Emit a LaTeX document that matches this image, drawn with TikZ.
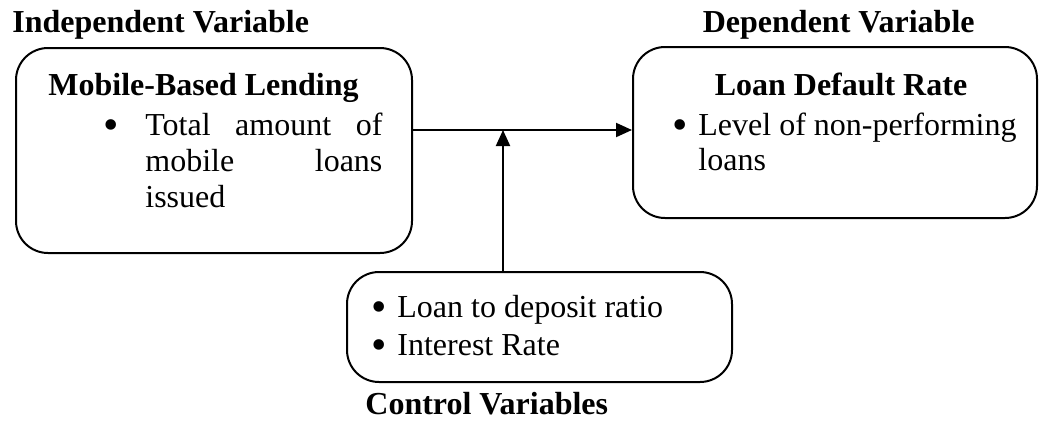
\documentclass[tikz,border=0pt]{standalone}
\usepackage{fontspec}
\setmainfont{Liberation Serif}
\usepackage{tikz}
\usetikzlibrary{arrows.meta,positioning}

\begin{document}
\begin{tikzpicture}[x=0.5pt,y=0.5pt,
  box/.style={draw,line width=1pt,rounded corners=16pt,inner sep=0pt},
  hdr/.style={font=\fontsize{16}{18}\selectfont\bfseries,inner sep=0pt},
  txt/.style={font=\fontsize{16}{18}\selectfont,inner sep=0pt,align=left},
  dot/.style={font=\fontsize{22}{22}\selectfont,inner sep=0pt,text height=10pt,text depth=0pt},
  arr/.style={line width=1pt,-{Triangle[length=8pt,width=7pt]}}]
\useasboundingbox (0,0) rectangle (1039,420);
% boxes
\node[box,minimum width=198pt,minimum height=102.5pt] (mbl) at (214,269.5) {};
\node[box,minimum width=202pt,minimum height=85.5pt] (ldr) at (835,287.5) {};
\node[box,minimum width=192.5pt,minimum height=55pt] (ctl) at (539.5,93) {};
% headings
\node[hdr,anchor=base west] (iv) at (12,388) {Independent Variable};
\node[hdr,anchor=base east] (dv) at (975,388) {Dependent Variable};
\node[hdr,anchor=base west] (cv) at (365,6) {Control Variables};
% independent variable (multi-line nodes sit on their last line)
\node[hdr,anchor=base west] (mblt) at (48,325) {Mobile-Based Lending};
\node[dot,anchor=base] (mblb) at (111,285) {\raisebox{-2pt}{\textbullet}};
\node[txt,anchor=base west] (mbli) at (145,213) {\makebox[118.5pt][s]{Total amount of}\\\makebox[118.5pt][s]{mobile loans}\\issued};
% dependent variable
\node[hdr,anchor=base] (ldrt) at (841,325) {Loan Default Rate};
\node[dot,anchor=base] (ldrb) at (680,285) {\raisebox{-2pt}{\textbullet}};
\node[txt,anchor=base west,font=\fontsize{16}{17.5}\selectfont] (ldri) at (698,250) {Level of non-performing\\loans};
% control variables
\foreach \yy/\lbl [count=\i] in {103/Loan to deposit ratio,65/Interest Rate}{
  \node[dot,anchor=base] (ctlb\i) at (379,\yy) {\raisebox{-2pt}{\textbullet}};
  \node[txt,anchor=base west] (ctli\i) at (397,\yy) {\lbl};
}
% connectors
\coordinate (jn) at (503,290);
\draw[arr] (mbl.east |- jn) -- (ldr.west |- jn);
\draw[arr] (ctl.north -| jn) -- (jn);
\end{tikzpicture}
\end{document}
